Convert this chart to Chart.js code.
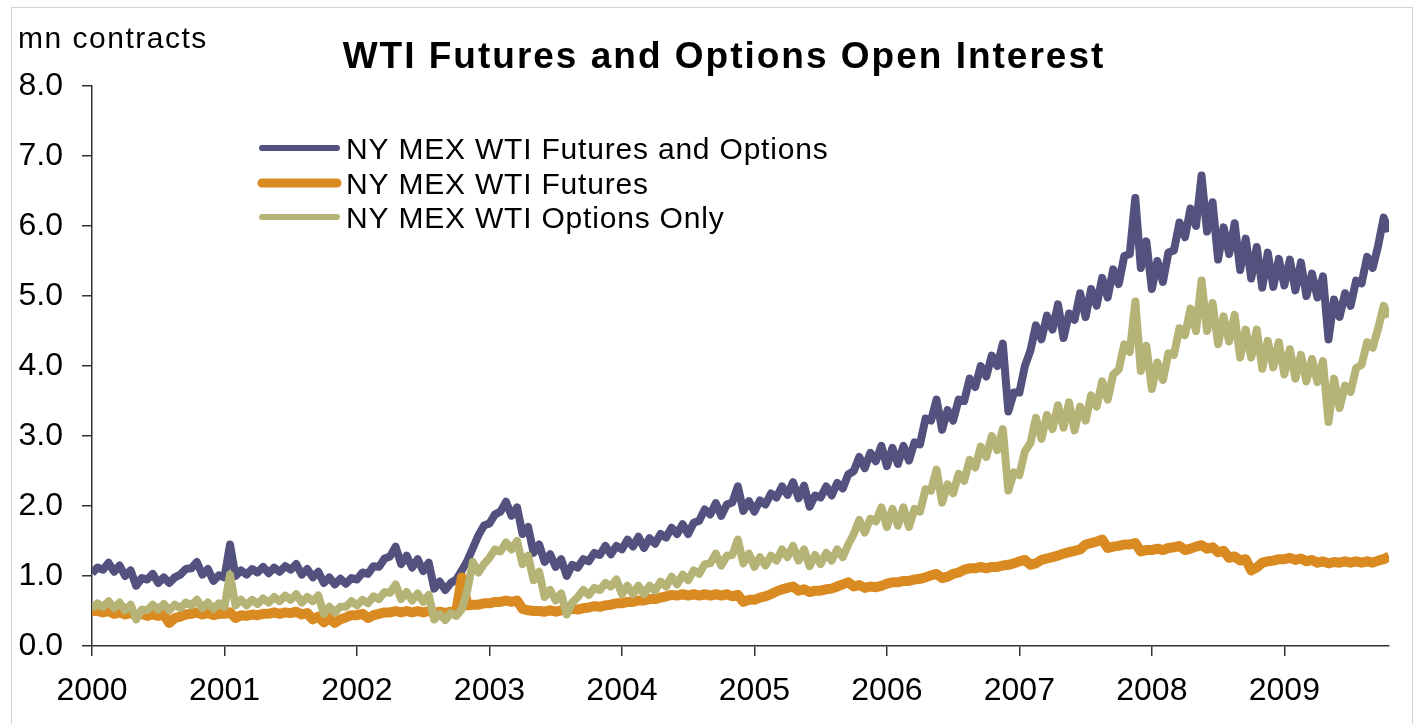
<!DOCTYPE html>
<html>
<head>
<meta charset="utf-8">
<script src="https://cdn.jsdelivr.net/npm/chart.js@4.4.1/dist/chart.umd.min.js"></script>
<style>
html, body { margin: 0; padding: 0; background: #fff; }
#frame { position: absolute; left: 11px; top: 7px; width: 1400px; height: 730px; border: 1px solid #d4d4d4; }
#oiChart { position: absolute; left: 0; top: 0; }
</style>
</head>
<body>
<div id="frame"></div>
<canvas id="oiChart" width="1420" height="724"></canvas>
<script>
// half-month readings, Jan 2000 .. Oct 2009 (mn contracts), one row per year
var years = [2000, 2001, 2002, 2003, 2004, 2005, 2006, 2007, 2008, 2009];

var futOpt = [
  1.04, 1.12, 1.09, 1.19, 1.06, 1.15, 1.00, 1.08, 0.86, 0.97, 0.95, 1.03, 0.90, 0.98, 0.90, 0.98, 1.02, 1.10, 1.11, 1.20, 1.02, 1.10, 0.93, 1.01,
  0.98, 1.45, 1.00, 1.08, 1.02, 1.10, 1.05, 1.13, 1.04, 1.12, 1.06, 1.14, 1.09, 1.17, 1.02, 1.10, 0.98, 1.06, 0.90, 0.98, 0.88, 0.96, 0.89, 0.97,
  0.95, 1.05, 1.03, 1.14, 1.13, 1.25, 1.28, 1.42, 1.17, 1.29, 1.12, 1.24, 1.07, 1.19, 0.82, 0.92, 0.80, 0.90, 0.95, 1.08, 1.22, 1.40, 1.58, 1.72,
  1.75, 1.88, 1.92, 2.06, 1.86, 1.98, 1.60, 1.70, 1.33, 1.45, 1.20, 1.31, 1.13, 1.24, 1.00, 1.16, 1.12, 1.24, 1.21, 1.33, 1.30, 1.43, 1.31, 1.43,
  1.38, 1.52, 1.42, 1.56, 1.40, 1.54, 1.46, 1.60, 1.55, 1.69, 1.60, 1.74, 1.60, 1.76, 1.79, 1.95, 1.88, 2.04, 1.86, 2.02, 2.05, 2.28, 1.93, 2.07,
  1.92, 2.08, 2.02, 2.18, 2.12, 2.28, 2.16, 2.34, 2.11, 2.29, 1.99, 2.15, 2.12, 2.28, 2.15, 2.33, 2.25, 2.45, 2.50, 2.70, 2.54, 2.76, 2.64, 2.86,
  2.57, 2.83, 2.60, 2.86, 2.65, 2.91, 2.88, 3.25, 3.22, 3.52, 3.09, 3.37, 3.22, 3.52, 3.50, 3.82, 3.70, 4.00, 3.85, 4.15, 4.00, 4.32, 3.35, 3.62,
  3.62, 4.00, 4.22, 4.58, 4.38, 4.72, 4.52, 4.88, 4.40, 4.75, 4.66, 5.04, 4.70, 5.10, 4.86, 5.26, 4.98, 5.38, 5.17, 5.57, 5.60, 6.40, 5.40, 5.78,
  5.10, 5.50, 5.20, 5.62, 5.65, 6.05, 5.84, 6.25, 6.00, 6.72, 5.92, 6.34, 5.52, 5.98, 5.60, 6.04, 5.37, 5.82, 5.25, 5.70, 5.12, 5.62, 5.13, 5.53,
  5.15, 5.52, 5.08, 5.48, 5.00, 5.32, 4.98, 5.28, 4.38, 4.95, 4.70, 5.04, 4.86, 5.22, 5.18, 5.56, 5.40, 5.72, 6.12, 5.92
];

var futures = [
  0.50, 0.50, 0.48, 0.50, 0.46, 0.48, 0.45, 0.47, 0.44, 0.46, 0.43, 0.45, 0.43, 0.45, 0.33, 0.40, 0.42, 0.45, 0.46, 0.48, 0.45, 0.47, 0.44, 0.46,
  0.46, 0.48, 0.40, 0.44, 0.43, 0.45, 0.44, 0.46, 0.46, 0.48, 0.46, 0.48, 0.47, 0.49, 0.45, 0.47, 0.38, 0.42, 0.34, 0.40, 0.33, 0.38, 0.41, 0.44,
  0.44, 0.46, 0.40, 0.44, 0.46, 0.48, 0.48, 0.50, 0.48, 0.50, 0.48, 0.50, 0.48, 0.50, 0.47, 0.49, 0.47, 0.49, 0.50, 0.98, 0.58, 0.59, 0.59, 0.61,
  0.61, 0.63, 0.63, 0.65, 0.63, 0.65, 0.53, 0.51, 0.50, 0.50, 0.49, 0.51, 0.49, 0.51, 0.51, 0.53, 0.52, 0.54, 0.55, 0.57, 0.56, 0.58, 0.59, 0.61,
  0.61, 0.63, 0.63, 0.65, 0.65, 0.67, 0.67, 0.69, 0.71, 0.73, 0.72, 0.74, 0.72, 0.74, 0.72, 0.74, 0.72, 0.74, 0.72, 0.74, 0.71, 0.73, 0.63, 0.66,
  0.66, 0.69, 0.71, 0.74, 0.78, 0.81, 0.83, 0.85, 0.79, 0.81, 0.77, 0.79, 0.79, 0.81, 0.82, 0.85, 0.88, 0.91, 0.85, 0.87, 0.83, 0.85, 0.84, 0.86,
  0.89, 0.91, 0.91, 0.93, 0.93, 0.95, 0.96, 0.98, 1.01, 1.03, 0.97, 0.99, 1.03, 1.05, 1.09, 1.11, 1.11, 1.13, 1.11, 1.13, 1.13, 1.15, 1.16, 1.18,
  1.21, 1.23, 1.16, 1.18, 1.23, 1.25, 1.27, 1.29, 1.32, 1.34, 1.36, 1.38, 1.45, 1.47, 1.49, 1.52, 1.40, 1.42, 1.43, 1.45, 1.45, 1.47, 1.35, 1.37,
  1.37, 1.39, 1.37, 1.40, 1.41, 1.43, 1.37, 1.39, 1.42, 1.44, 1.39, 1.41, 1.34, 1.36, 1.26, 1.28, 1.22, 1.24, 1.08, 1.12, 1.19, 1.21, 1.22, 1.24,
  1.24, 1.26, 1.23, 1.25, 1.21, 1.23, 1.19, 1.21, 1.18, 1.20, 1.19, 1.21, 1.19, 1.21, 1.19, 1.21, 1.19, 1.22, 1.24, 1.28
];

var optOnly = [
  0.53, 0.61, 0.56, 0.64, 0.54, 0.62, 0.51, 0.59, 0.38, 0.52, 0.51, 0.59, 0.52, 0.60, 0.51, 0.59, 0.54, 0.62, 0.58, 0.66, 0.54, 0.62, 0.53, 0.61,
  0.56, 1.02, 0.58, 0.66, 0.58, 0.66, 0.60, 0.68, 0.62, 0.70, 0.64, 0.72, 0.66, 0.74, 0.62, 0.70, 0.64, 0.72, 0.46, 0.56, 0.48, 0.56, 0.56, 0.64,
  0.58, 0.66, 0.61, 0.71, 0.67, 0.77, 0.76, 0.88, 0.67, 0.77, 0.65, 0.75, 0.63, 0.73, 0.38, 0.46, 0.37, 0.47, 0.43, 0.53, 0.80, 1.20, 1.05, 1.17,
  1.26, 1.38, 1.35, 1.48, 1.38, 1.50, 1.17, 1.29, 0.94, 1.06, 0.70, 0.80, 0.65, 0.75, 0.45, 0.62, 0.70, 0.80, 0.73, 0.83, 0.80, 0.90, 0.85, 0.95,
  0.74, 0.86, 0.74, 0.86, 0.74, 0.86, 0.79, 0.92, 0.85, 0.99, 0.88, 1.02, 0.94, 1.08, 1.03, 1.17, 1.18, 1.32, 1.15, 1.29, 1.30, 1.52, 1.18, 1.32,
  1.13, 1.27, 1.15, 1.29, 1.22, 1.38, 1.27, 1.43, 1.22, 1.38, 1.14, 1.30, 1.17, 1.33, 1.22, 1.38, 1.27, 1.45, 1.60, 1.80, 1.62, 1.82, 1.78, 1.98,
  1.70, 1.96, 1.72, 1.98, 1.70, 1.96, 1.92, 2.24, 2.22, 2.52, 2.05, 2.31, 2.18, 2.46, 2.36, 2.66, 2.55, 2.85, 2.70, 3.00, 2.80, 3.10, 2.22, 2.48,
  2.44, 2.78, 2.90, 3.26, 2.96, 3.30, 3.10, 3.44, 3.12, 3.48, 3.08, 3.42, 3.22, 3.58, 3.42, 3.78, 3.52, 3.88, 3.95, 4.31, 4.20, 4.92, 3.93, 4.29,
  3.67, 4.05, 3.80, 4.18, 4.16, 4.54, 4.44, 4.82, 4.50, 5.22, 4.50, 4.90, 4.31, 4.71, 4.35, 4.73, 4.12, 4.52, 4.12, 4.52, 3.96, 4.36, 3.98, 4.34,
  3.88, 4.24, 3.82, 4.16, 3.78, 4.10, 3.77, 4.07, 3.20, 3.82, 3.40, 3.72, 3.63, 3.97, 4.02, 4.34, 4.26, 4.54, 4.86, 4.70
];

var seriesNames = ['NY MEX WTI Futures and Options', 'NY MEX WTI Futures', 'NY MEX WTI Options Only'];
var colors = ['#53527f', '#d98a20', '#b5b376'];
var lineWidths = [8, 10, 8];

var FONT = '"Liberation Sans", Arial, sans-serif';

// half-month index -> fractional year on the x axis
function toPoints(vals) {
  var pts = [];
  for (var i = 0; i < vals.length; i++) {
    pts.push({ x: years[0] + i / 24, y: vals[i] });
  }
  return pts;
}

// title, unit label and the in-plot legend
var textPlugin = {
  id: 'texts',
  afterDraw: function(chart) {
    var ctx = chart.ctx;
    ctx.save();
    ctx.fillStyle = '#000';
    ctx.textBaseline = 'alphabetic';

    ctx.font = 'bold 37px ' + FONT;
    ctx.letterSpacing = '2px';
    ctx.textAlign = 'center';
    ctx.fillText('WTI Futures and Options Open Interest', 724, 68);

    ctx.font = '30px ' + FONT;
    ctx.letterSpacing = '1.5px';
    ctx.textAlign = 'left';
    ctx.fillText('mn contracts', 18, 48);

    var rowY = [148, 183, 217];
    ctx.letterSpacing = '0.8px';
    for (var i = 0; i < seriesNames.length; i++) {
      ctx.strokeStyle = colors[i];
      ctx.lineWidth = i == 1 ? 9 : 6;
      ctx.lineCap = 'round';
      ctx.beginPath();
      ctx.moveTo(262, rowY[i]);
      ctx.lineTo(337, rowY[i]);
      ctx.stroke();
      ctx.fillText(seriesNames[i], 346, rowY[i] + 11);
    }
    ctx.restore();
  }
};

var datasets = [futOpt, futures, optOnly].map(function(vals, i) {
  return {
    label: seriesNames[i],
    data: toPoints(vals),
    borderColor: colors[i],
    backgroundColor: colors[i],
    borderWidth: lineWidths[i],
    borderJoinStyle: 'round',
    pointRadius: 0,
    tension: 0,
    order: 2 - i
  };
});

var ctx = document.getElementById('oiChart');
var oiChart = new Chart(ctx, {
  type: 'line',
  data: { datasets: datasets },
  plugins: [textPlugin],
  options: {
    responsive: false,
    animation: false,
    layout: { padding: { left: 0, right: 31, top: 86, bottom: 0 } },
    plugins: {
      legend: { display: false },
      title: { display: false },
      tooltip: { enabled: false }
    },
    scales: {
      x: {
        type: 'linear',
        min: 2000,
        max: 2009.79,
        afterFit: function(scale) { scale.height = 78; },
        border: { display: true, color: '#333', width: 1.5 },
        grid: { drawOnChartArea: false, drawTicks: true, tickLength: 10, color: '#333', lineWidth: 1.5 },
        ticks: {
          stepSize: 1,
          includeBounds: false,
          autoSkip: false,
          maxRotation: 0,
          padding: 16,
          color: '#000',
          font: { family: FONT, size: 32 },
          callback: function(v) { return String(v); }
        }
      },
      y: {
        min: 0,
        max: 8,
        afterFit: function(scale) { scale.width = 92; },
        border: { display: true, color: '#333', width: 1.5 },
        grid: { drawOnChartArea: false, drawTicks: true, tickLength: 10, color: '#333', lineWidth: 1.5 },
        ticks: {
          stepSize: 1,
          padding: 19,
          color: '#000',
          font: { family: FONT, size: 32 },
          callback: function(v) { return v.toFixed(1); }
        }
      }
    }
  }
});
</script>
</body>
</html>
